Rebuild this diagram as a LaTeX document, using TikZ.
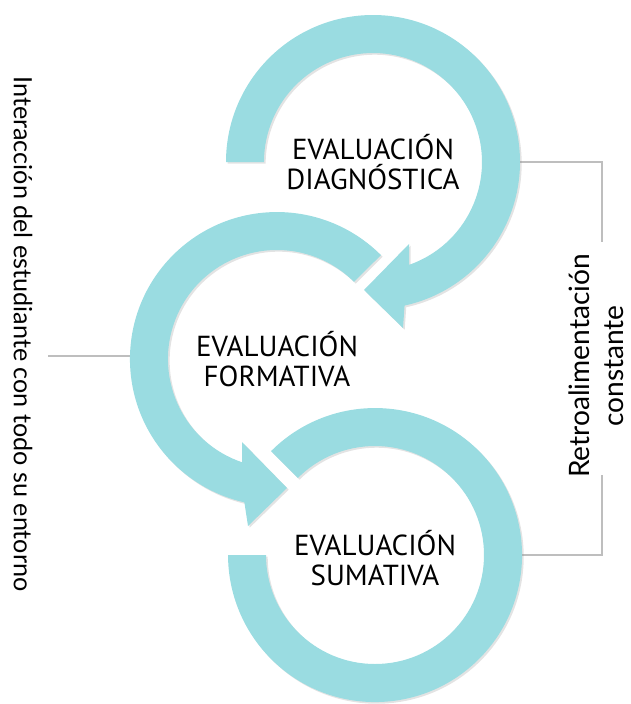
\documentclass[tikz,border=0pt]{standalone}
\usepackage{fontspec}
\setmainfont{PT Sans}
\newfontfamily\sidefont{Lato}
\usetikzlibrary{shadows}
\definecolor{ringblue}{HTML}{9ADCE1}
\definecolor{linegray}{HTML}{BEBEBE}

\begin{document}
\begin{tikzpicture}[scale=0.25]
\tikzstyle{every node}+=[inner sep=0pt]
\tikzstyle{ring}=[fill=ringblue, drop shadow={shadow xshift=1.2pt, shadow yshift=-1.2pt, opacity=0.22}]
\tikzstyle{link}=[linegray, line width=1.8pt]
\tikzstyle{stage}=[align=center, font=\fontsize{20.6}{21}\selectfont]
\tikzstyle{side}=[align=center, font=\sidefont\fontsize{20}{24}\selectfont]
\useasboundingbox (0,0) rectangle (63,-70.4);
% bracket ends
\coordinate (d1) at (52.0,-16.2);
\coordinate (r1) at (60.2,-24.2);
\coordinate (r2) at (60.2,-47.5);
\coordinate (s1) at (52.2,-55.5);
\coordinate (e1) at (4.8,-35.6);
\coordinate (f1) at (13.0,-35.6);
\draw [link] (d1) -| (r1);
\draw [link] (r2) |- (s1);
\draw [link] (e1) -- (f1);
% diagnostica
\fill [ring] (22.6,-16.2) arc (180:-77.6:14.7) -- (40.3,-32.8) -- (36.4,-29.0) -- (40.9,-24.4) -- (40.9,-26.49) arc (-70.7:180:10.9) -- cycle;
% formativa
\fill [ring] (38.09,-25.51) arc (45:257.2:14.7) -- (24.8,-52.6) -- (28.7,-48.8) -- (24.2,-44.2) -- (24.22,-46.23) arc (251.4:45:10.9) -- cycle;
% sumativa
\fill [ring] (27.11,-45.11) arc (135:-180:14.7) -- (26.6,-55.5) arc (-180:135:10.9) -- cycle;
\node [stage] (diag) at (37.3,-16.2) {EVALUACIÓN\\DIAGNÓSTICA};
\node [stage] (form) at (27.7,-35.9) {EVALUACIÓN\\FORMATIVA};
\node [stage] (suma) at (37.5,-55.8) {EVALUACIÓN\\SUMATIVA};
\node [side, rotate=90] (retro) at (59.6,-36.6) {Retroalimentación\\constante};
\node [side, rotate=-90, font=\sidefont\fontsize{17.9}{22}\selectfont] (entorno) at (2.3,-33.4) {Interacción del estudiante con todo su entorno};
\end{tikzpicture}
\end{document}
